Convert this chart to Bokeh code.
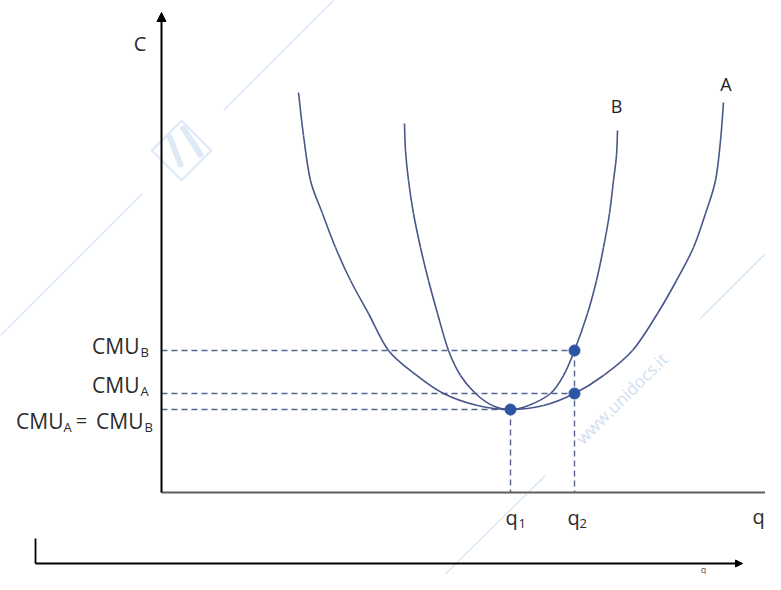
from bokeh.plotting import figure
from bokeh.models import Range1d, Arrow, NormalHead
from bokeh.core.properties import value
from bokeh.embed import file_html
from bokeh.resources import INLINE

# ---------------- data (q = quantity, C = average unit cost) ----------------
curve_a_q = [13.7, 14.2, 14.9, 16.1, 17.4, 18.9, 20.7, 22.7, 25.4, 28.2, 31.6, 34.9,
             38.2, 41.3, 44.2, 47.1, 49.6, 51.5, 53.2, 54.4, 55.4, 55.9, 56.2]
curve_a_c = [40.0, 35.7, 31.2, 27.9, 24.5, 21.2, 17.9, 14.2, 11.8, 9.9, 8.7, 8.3,
             8.7, 9.9, 11.7, 14.2, 17.9, 21.2, 24.5, 27.9, 31.2, 35.2, 39.0]
curve_b_q = [24.3, 24.4, 24.7, 25.2, 25.9, 26.7, 27.6, 28.7, 29.9, 31.4, 33.1, 34.9,
             36.7, 38.9, 40.2, 41.3, 42.6, 43.5, 44.2, 44.8, 45.2, 45.5, 45.6]
curve_b_c = [36.9, 34.2, 31.2, 27.9, 24.5, 21.2, 17.9, 14.2, 11.7, 9.9, 8.7, 8.3,
             8.7, 9.9, 11.7, 14.2, 17.9, 21.2, 24.5, 27.9, 31.2, 33.7, 36.2]

q1 = 34.9
q2 = 41.3
cmu_min = 8.3      # CMU_A = CMU_B at q1
cmu_a = 9.9        # CMU_A at q2
cmu_b = 14.2       # CMU_B at q2

point_q = [q1, q2, q2]
point_c = [cmu_min, cmu_a, cmu_b]

# ---------------- layout (view window and axes) ----------------
Q_MIN, Q_MAX = -16.1, 60.4
C_MIN, C_MAX = -8.2, 49.2
Y_AXIS_TOP = 48.0
X_AXIS_END = 62.0
LOW_AXIS_Q, LOW_AXIS_C, LOW_AXIS_TOP, LOW_AXIS_END = -12.6, -7.1, -4.6, 58.1
LABEL_Q = -2.2

FONT = value("Open Sans")
CURVE_COL = "#48568a"
DASH_COL = "#56648f"
DOT_COL = "#2e55a2"
WM_COL = "#d6e6f6"
TXT_COL = "#2b2b2b"


def smooth(qs, cs):
    """Catmull-Rom path through the given points, expressed as cubic Bezier pieces."""
    n = len(qs)
    x0, y0, x1, y1, cx0, cy0, cx1, cy1 = [], [], [], [], [], [], [], []
    for i in range(n - 1):
        pm = max(i - 1, 0)
        pp = min(i + 2, n - 1)
        x0.append(qs[i]); y0.append(cs[i])
        x1.append(qs[i + 1]); y1.append(cs[i + 1])
        cx0.append(qs[i] + (qs[i + 1] - qs[pm]) / 6.0)
        cy0.append(cs[i] + (cs[i + 1] - cs[pm]) / 6.0)
        cx1.append(qs[i + 1] - (qs[pp] - qs[i]) / 6.0)
        cy1.append(cs[i + 1] - (cs[pp] - cs[i]) / 6.0)
    return dict(x0=x0, y0=y0, x1=x1, y1=y1, cx0=cx0, cy0=cy0, cx1=cx1, cy1=cy1)


p = figure(width=765, height=574, x_range=Range1d(Q_MIN, Q_MAX), y_range=Range1d(C_MIN, C_MAX),
           output_backend="svg", toolbar_location=None, min_border=0,
           x_axis_location=None, y_axis_location=None)
p.grid.visible = False
p.outline_line_color = None
p.background_fill_color = "white"
p.border_fill_color = "white"

# ---------------- watermark ----------------
p.segment(x0=[-16.1, 6.2, 38.4, 53.8], y0=[15.7, 38.2, 1.7, 17.3],
          x1=[-1.9, 17.2, 26.7, 62.0], y1=[29.9, 49.2, -9.8, 25.5],
          line_color=WM_COL, line_width=1.3)
p.rect(x=[2.0], y=[34.2], width=[42], height=[42], width_units="screen", height_units="screen",
       angle=0.785, fill_color=None, line_color="#dde9f7", line_width=2.2)
p.segment(x0=[0.8, 2.2], y0=[35.6, 36.4], x1=[1.9, 3.9], y1=[32.8, 33.8],
          line_color="#dde9f7", line_width=6, line_cap="round")
p.text(x=[46.0], y=[9.4], text=["www.unidocs.it"], angle=0.78, text_align="center",
       text_baseline="middle", text_font=FONT, text_font_size="17px", text_color="#cfe0f3")

# ---------------- dashed guides ----------------
p.segment(x0=[0, 0, 0], y0=[cmu_b, cmu_a, cmu_min], x1=[q2, q2, q1], y1=[cmu_b, cmu_a, cmu_min],
          line_color=DASH_COL, line_width=1.4, line_dash="6 4")
p.segment(x0=[q1, q2], y0=[cmu_min, cmu_b], x1=[q1, q2], y1=[0, 0],
          line_color=DASH_COL, line_width=1.4, line_dash="6 4")

# ---------------- curves ----------------
for qs, cs in ((curve_a_q, curve_a_c), (curve_b_q, curve_b_c)):
    p.bezier(line_color=CURVE_COL, line_width=1.6, **smooth(qs, cs))

# ---------------- axes ----------------
p.segment(x0=[0], y0=[0], x1=[X_AXIS_END], y1=[0], line_color="#5e5e5e", line_width=2)
p.add_layout(Arrow(end=NormalHead(size=9, fill_color="black", line_color="black"),
                   x_start=0, y_start=0, x_end=0, y_end=Y_AXIS_TOP,
                   line_color="black", line_width=2))
p.segment(x0=[LOW_AXIS_Q], y0=[LOW_AXIS_TOP], x1=[LOW_AXIS_Q], y1=[LOW_AXIS_C],
          line_color="black", line_width=1.8)
p.add_layout(Arrow(end=NormalHead(size=7, fill_color="black", line_color="black"),
                   x_start=LOW_AXIS_Q, y_start=LOW_AXIS_C, x_end=LOW_AXIS_END, y_end=LOW_AXIS_C,
                   line_color="black", line_width=1.8))

# ---------------- points ----------------
p.scatter(point_q, point_c, size=11, fill_color=DOT_COL, line_color=DOT_COL)

# ---------------- labels ----------------
# CMU labels with subscripts
p.text(x=[LABEL_Q] * 4, y=[cmu_b, cmu_a, cmu_min, cmu_min], text=["CMU", "CMU", "CMU", "CMU"],
       x_offset=[0, 0, -76, 4], y_offset=[-5, -9, 11, 11], text_align="right", text_baseline="middle",
       text_font=FONT, text_font_size="21px", text_color=TXT_COL)
p.text(x=[LABEL_Q] * 4, y=[cmu_b, cmu_a, cmu_min, cmu_min], text=["B", "A", "A", "B"],
       x_offset=[1, 1, -76, 5], y_offset=[1, -3, 17, 17], text_align="left", text_baseline="middle",
       text_font=FONT, text_font_size="13px", text_color=TXT_COL)
p.text(x=[LABEL_Q], y=[cmu_min], text=["="], x_offset=[-58], y_offset=[11], text_align="center",
       text_baseline="middle", text_font=FONT, text_font_size="20px", text_color=TXT_COL)

# q1, q2
p.text(x=[q1, q2], y=[0, 0], text=["q", "q"], x_offset=[1, -1], y_offset=[25, 25],
       text_align="center", text_baseline="alphabetic", text_font=FONT, text_font_size="20px",
       text_color=TXT_COL)
p.text(x=[q1, q2], y=[0, 0], text=["1", "2"], x_offset=[8, 5], y_offset=[31, 31],
       text_align="left", text_baseline="alphabetic", text_font=FONT, text_font_size="13px",
       text_color=TXT_COL)

# axis names and curve names
p.text(x=[-2.15, 59.7], y=[44.9, -2.4], text=["C", "q"], text_align="center",
       text_baseline="alphabetic", text_font=FONT, text_font_size="20px", text_color=TXT_COL)
p.text(x=[56.45, 45.5], y=[40.9, 38.7], text=["A", "B"], text_align="center",
       text_baseline="alphabetic", text_font=FONT, text_font_size="18px", text_color="#1e1e1e")
p.text(x=[54.2], y=[-7.1], text=["q"], y_offset=[6], text_align="center", text_baseline="alphabetic",
       text_font=FONT, text_font_size="9px", text_color="#555555")

open("out.html", "w").write(file_html(p, INLINE))
